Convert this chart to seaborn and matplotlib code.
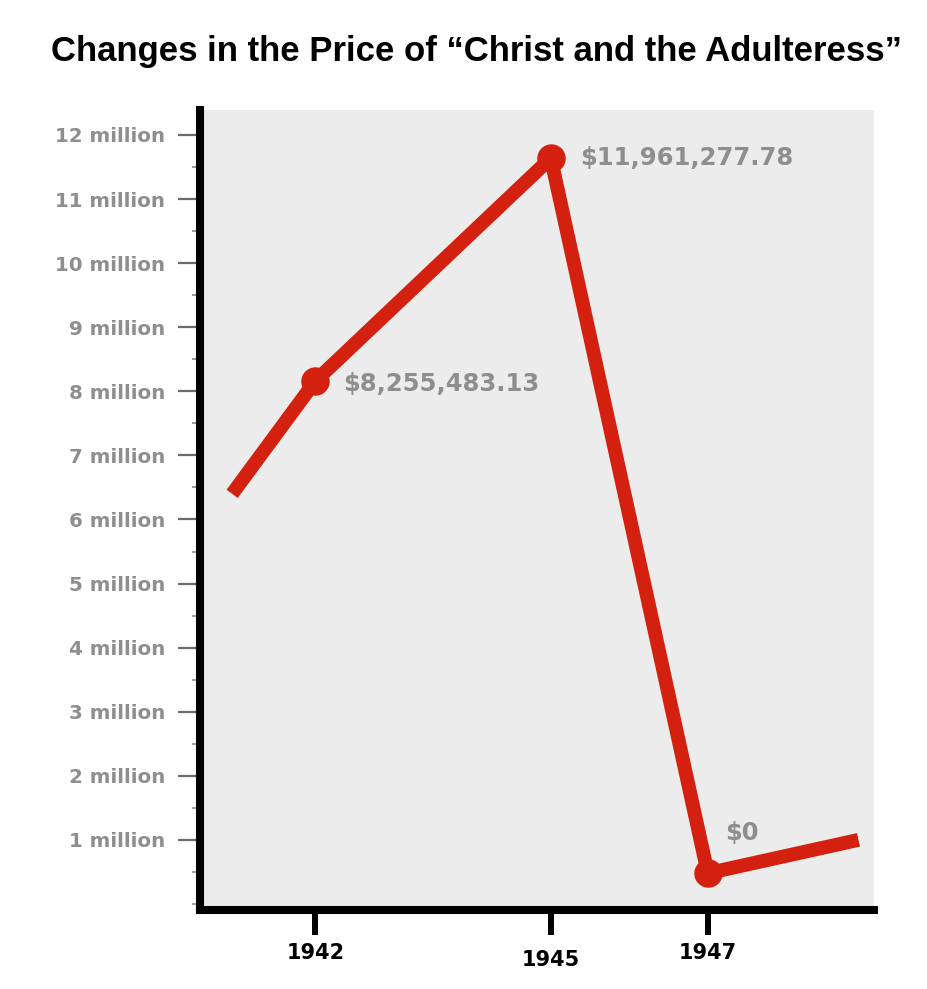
import matplotlib
matplotlib.use("Agg")
import matplotlib.pyplot as plt
import matplotlib.transforms as mtransforms
from matplotlib.ticker import FixedLocator, MultipleLocator
import seaborn as sns
import pandas as pd

# colours
color_red = "#d4200f"
color_gray_text = "#8e8e8e"
color_bg = "#ececec"

# data
years = [1942, 1945, 1947]
prices = [8.16e6, 11.64e6, 0.48e6]
price_labels = ["$8,255,483.13", "$11,961,277.78", "$0"]

# line runs past the first and last points to the plot edges
edge_years = [1940.94, 1948.92]
edge_prices = [6.4e6, 1.0e6]

ytick_values = [1e6 * i for i in range(1, 13)]
ytick_labels = ["%d million" % i for i in range(1, 13)]

line_df = pd.DataFrame({
    "year": [edge_years[0]] + years + [edge_years[1]],
    "price": [edge_prices[0]] + prices + [edge_prices[1]],
})
point_df = pd.DataFrame({"year": years, "price": prices, "label": price_labels})

sns.set_style("white")
plt.rcParams["font.family"] = ["DejaVu Sans"]

fig = plt.figure(figsize=(9.28, 9.89), dpi=100)
ax = fig.add_axes([0.2155, 0.0799, 0.7265, 0.8089])
ax.set_facecolor(color_bg)

# 折れ線
sns.lineplot(data=line_df, x="year", y="price", ax=ax, color=color_red,
             linewidth=10, solid_capstyle="butt", solid_joinstyle="round",
             sort=False, zorder=3)
sns.scatterplot(data=point_df, x="year", y="price", ax=ax, color=color_red,
                s=420, edgecolor=color_red, linewidth=0, zorder=4)

# 値ラベル
offsets = [(28, -3), (29, 0), (17, 40)]
for (_, row), off in zip(point_df.iterrows(), offsets):
    ax.annotate(row["label"], (row["year"], row["price"]), xytext=off,
                textcoords="offset pixels", ha="left", va="center",
                fontsize=17.5, fontweight="bold", color=color_gray_text)

ax.set_xlim(1940.53, 1949.12)
ax.set_ylim(-0.094e6, 12.39e6)

ax.set_xticks(years)
ax.set_xticklabels([str(y) for y in years], fontsize=15, fontweight="bold", color="black")
ax.tick_params(axis="x", direction="out", length=18, width=4.3, color="black",
               pad=6, bottom=True)

ax.yaxis.set_major_locator(FixedLocator(ytick_values))
ax.set_yticklabels(ytick_labels, fontsize=14.3, fontweight="bold", color=color_gray_text)
ax.yaxis.set_minor_locator(MultipleLocator(0.5e6))
ax.tick_params(axis="y", which="major", direction="out", length=16, width=1.6,
               color="#6a6a6a", pad=9, left=True)
ax.tick_params(axis="y", which="minor", direction="out", length=6, width=1.2,
               color="#8a8a8a", left=True)

# 1945 sits a bit lower than the others
lab = ax.get_xticklabels()[1]
lab.set_transform(lab.get_transform() + mtransforms.ScaledTranslation(0, -7 / 100, fig.dpi_scale_trans))

for side in ["top", "right"]:
    ax.spines[side].set_visible(False)
for side in ["left", "bottom"]:
    ax.spines[side].set_linewidth(5.8)
    ax.spines[side].set_color("black")

ax.set_xlabel("")
ax.set_ylabel("")

fig.text(0.5135, 1 - 52 / 989, "Changes in the Price of \u201cChrist and the Adulteress\u201d",
         ha="center", va="center", fontsize=25, fontweight="bold",
         family=["Liberation Sans", "DejaVu Sans"], color="black")

fig.savefig("out.png", dpi=100, facecolor="white")
